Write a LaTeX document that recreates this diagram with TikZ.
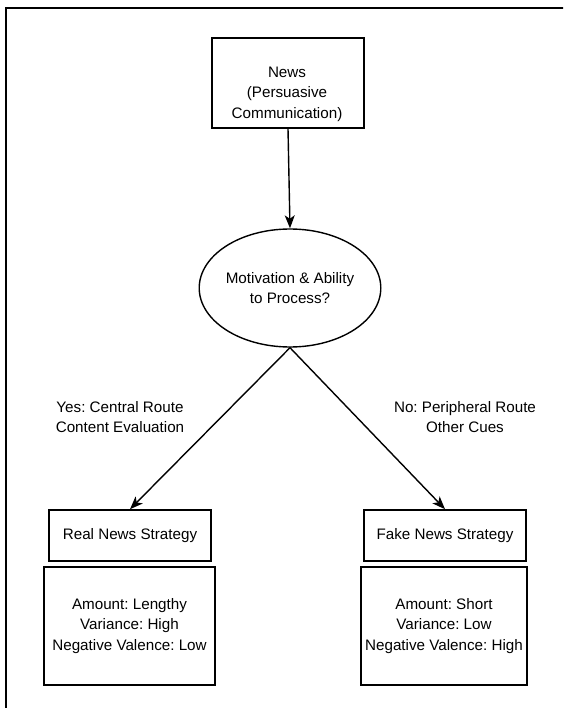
\documentclass[tikz,border=0pt]{standalone}
\usepackage{fontspec}
\setmainfont{Liberation Sans}
\usetikzlibrary{arrows.meta,shapes.geometric}
\frenchspacing
\tikzset{
  stratbox/.style={draw=black,line width=1.6pt,minimum width=162,minimum height=51,inner sep=0pt},
  featbox/.style={draw=black,line width=1.6pt,minimum height=118,inner sep=0pt,align=center},
  route/.style={align=center},
  flow/.style={line width=1.4pt,-{Stealth[length=13pt,width=10pt,inset=3.5pt]}}
}
\begin{document}
\begin{tikzpicture}[x=1pt,y=-1pt,font=\fontsize{15.2}{20.5}\selectfont]
        \useasboundingbox (0,0) rectangle (563,708);
        \clip (0,0) rectangle (563,708);
        % frame
        \draw[line width=2.2pt] (6,8) rectangle (580,730);
        % news
        \node[draw=black,line width=1.6pt,minimum width=152,minimum height=90,inner sep=0pt] (news) at (288,83) {};
        \node[align=center] (newstext) at (287,94) {News\\(Persuasive\\Communication)};
        % decision
        \node[draw=black,line width=1.4pt,ellipse,minimum width=152,minimum height=118,inner sep=0pt,align=center] (motive) at (290,288) {Motivation \& Ability\\to Process?};
        \draw[flow] (news.south) -- (motive.north);
        % routes
        \node[route] (yes) at (120,417) {Yes: Central Route\\Content Evaluation};
        \node[route] (no) at (465,417) {No: Peripheral Route\\Other Cues};
        % strategies
        \node[stratbox] (real) at (130,535.5) {Real News Strategy};
        \node[stratbox] (fake) at (445,535.5) {Fake News Strategy};
        \draw[flow] (motive.south) -- (real.north);
        \draw[flow] (motive.south) -- (fake.north);
        % features
        \node[featbox,minimum width=171] (realfeat) at (129.5,626) {Amount: Lengthy\\Variance: High\\Negative Valence: Low};
        \node[featbox,minimum width=166] (fakefeat) at (444,626) {Amount: Short\\Variance: Low\\Negative Valence: High};
    \end{tikzpicture}
\end{document}
